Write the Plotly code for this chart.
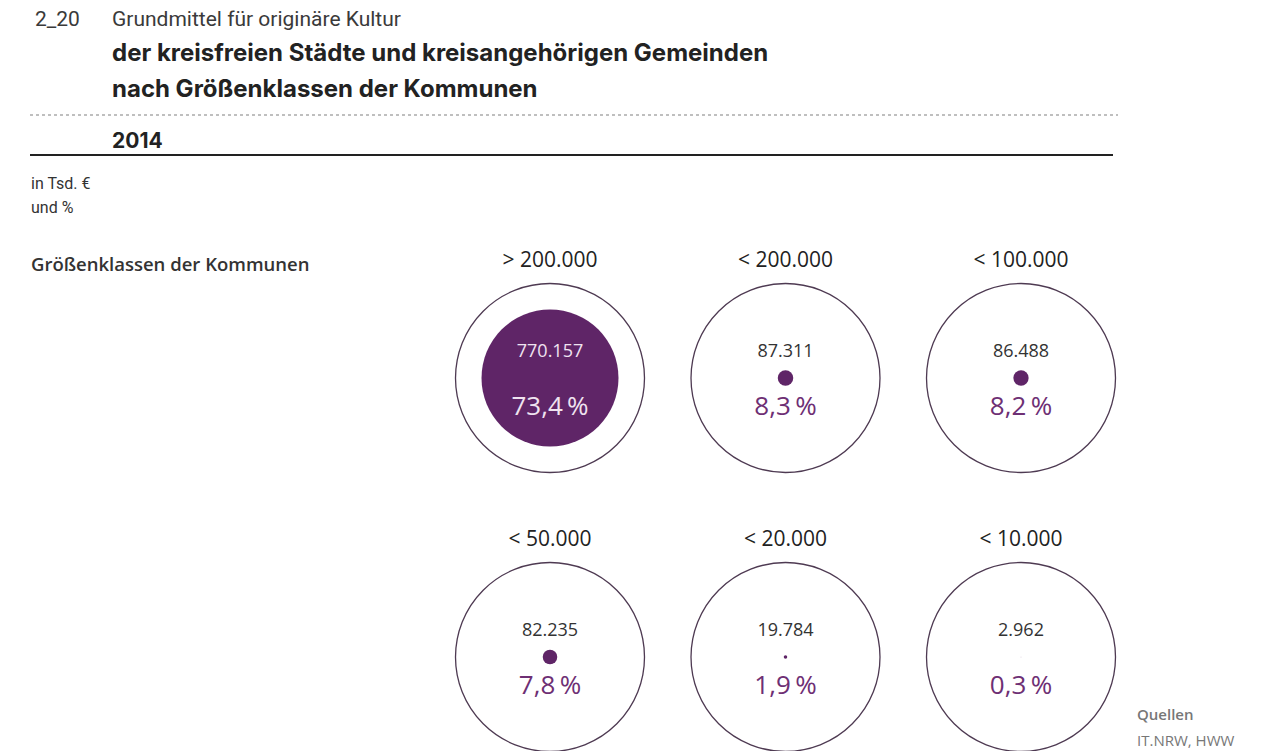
import plotly.graph_objects as go

# ---- data ----
size_classes = ["> 200.000", "< 200.000", "< 100.000", "< 50.000", "< 20.000", "< 10.000"]
values_tsd = ["770.157", "87.311", "86.488", "82.235", "19.784", "2.962"]
shares_pct = [73.4, 8.3, 8.2, 7.8, 1.9, 0.3]

# ---- layout constants (pixel space) ----
W, H = 1271, 751
OFF = 8  # browser body margin
X0, DX = 550, 235.5
Y0, DY = 378, 279
OUTER_D = 189
K = 137 / 73.4  # dot diameter per percent point (linear radius scaling)

PURPLE = "#5f2567"
PCT_COL = "#6e2f74"
LIGHT = "#efe3f0"

xs = [X0 + (i % 3) * DX for i in range(len(size_classes))]
ys = [Y0 + (i // 3) * DY for i in range(len(size_classes))]
fmt = lambda p: f"{p:.1f}".replace(".", ",") + "\u2009%"

fig = go.Figure()
# outer circles
fig.add_trace(go.Scatter(
    x=xs, y=ys, mode="markers", hoverinfo="skip",
    marker=dict(size=OUTER_D, color="rgba(255,255,255,0)", opacity=1,
                line=dict(width=1.3, color="#4e3a52"))))
# inner proportional dots
fig.add_trace(go.Scatter(
    x=xs, y=ys, mode="markers", hoverinfo="skip",
    marker=dict(size=[p * K for p in shares_pct], sizemode="diameter",
                color=PURPLE, opacity=1, line=dict(width=0))))
big = [p * K > 60 for p in shares_pct]
# values
fig.add_trace(go.Scatter(
    x=xs, y=[y - 26 for y in ys], mode="text", hoverinfo="skip",
    text=values_tsd,
    textfont=dict(family="Open Sans", size=18,
                  color=[LIGHT if b else "#333333" for b in big])))
# percentages
fig.add_trace(go.Scatter(
    x=xs, y=[y + 30 for y in ys], mode="text", hoverinfo="skip",
    text=[fmt(p) for p in shares_pct],
    textfont=dict(family="Open Sans", size=26,
                  color=[LIGHT if b else PCT_COL for b in big])))
# class labels
fig.add_trace(go.Scatter(
    x=xs, y=[y - 116 for y in ys], mode="text", hoverinfo="skip",
    text=size_classes,
    textfont=dict(family="Open Sans", size=21, color="#222222")))

ann = []
def txt(x, y, s, size, color="#222", family="Roboto", weight="normal"):
    ann.append(dict(x=x, y=y, xref="x", yref="y", xanchor="left", yanchor="middle",
                    text=s, showarrow=False,
                    font=dict(family=family, size=size, color=color, weight=weight)))

txt(33, 19, "2_20", 21, "#3a3a3a")
txt(110, 19, "Grundmittel für originäre Kultur", 21, "#3a3a3a")
txt(110, 52, "der kreisfreien Städte und kreisangehörigen Gemeinden", 24, "#222", "Inter", "bold")
txt(110, 88, "nach Größenklassen der Kommunen", 24, "#222", "Inter", "bold")
txt(110, 140, "2014", 21, "#222", "Inter", "bold")
txt(29, 183, "in Tsd. €", 16, "#333")
txt(29, 207, "und %", 16, "#333")
txt(29, 263, "Größenklassen der Kommunen", 18.5, "#333", "Open Sans", 600)
txt(1135, 714, "Quellen", 15, "#777", "Open Sans", 600)
txt(1135, 740, "IT.NRW, HWW", 15, "#777", "Open Sans")

shapes = [
    dict(type="line", x0=30, x1=1118, y0=115, y1=115, xref="x", yref="y",
         line=dict(color="#aaaaaa", width=1.5, dash="dot")),
    dict(type="line", x0=30, x1=1113, y0=155, y1=155, xref="x", yref="y",
         line=dict(color="#222222", width=2)),
]

fig.update_layout(
    width=W - OFF, height=H - OFF, margin=dict(l=0, r=0, t=0, b=0),
    paper_bgcolor="white", plot_bgcolor="white", showlegend=False,
    xaxis=dict(range=[OFF, W], visible=False, fixedrange=True),
    yaxis=dict(range=[H, OFF], visible=False, fixedrange=True),
    annotations=ann, shapes=shapes,
)
fig.write_html("out.html")
